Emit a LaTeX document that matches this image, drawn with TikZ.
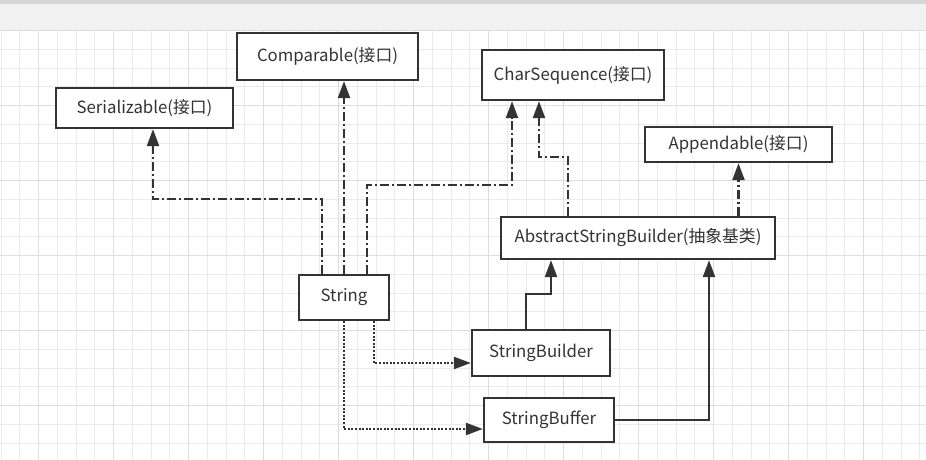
\documentclass[tikz,border=0pt]{standalone}
\usepackage{fontspec}
\setmainfont{Noto Sans CJK SC}
\usetikzlibrary{arrows.meta}
\definecolor{linegray}{HTML}{333333}
\definecolor{gridminor}{HTML}{EAEAEA}
\definecolor{gridmajor}{HTML}{DDDDDD}
\definecolor{barlight}{HTML}{F1F1F1}
\definecolor{bardark}{HTML}{D6D6DA}
\tikzset{
  classbox/.style={draw=linegray, line width=2.3pt, fill=white, inner sep=0pt,
    font=\fontsize{16.8}{20}\selectfont, text=linegray},
  iface/.style={draw=linegray, line width=2.3pt, dash pattern=on 9pt off 3pt on 2pt off 3pt,
    -{Triangle[length=17pt,width=12pt]}},
  extend/.style={draw=linegray, line width=2.3pt, -{Triangle[length=17pt,width=12pt]}},
  depend/.style={draw=linegray, line width=2.3pt, dash pattern=on 2pt off 1.6pt,
    -{Triangle[length=17pt,width=12pt]}},
}
\begin{document}
\begin{tikzpicture}[x=1pt, y=-1pt]
        \useasboundingbox (0,0) rectangle (926,460);
        \fill[white] (0,0) rectangle (926,460);
        \fill[barlight] (0,0) rectangle (926,30);
        \fill[bardark] (0,0) rectangle (926,4.5);
        % grid
        \foreach \x in {1,19.75,...,926}
          \draw[gridminor, line width=1pt] (\x,30) -- (\x,460);
        \foreach \y in {30.7,49.45,...,460}
          \draw[gridminor, line width=1pt] (0,\y) -- (926,\y);
        \foreach \x in {38.5,113.5,...,926}
          \draw[gridmajor, line width=1pt] (\x,30) -- (\x,460);
        \foreach \y in {30.7,105.7,...,460}
          \draw[gridmajor, line width=1pt] (0,\y) -- (926,\y);
        % classes
        \node[classbox, minimum width=181pt, minimum height=47pt] (cmp) at (327.5,56.5) {Comparable(接口)};
        \node[classbox, minimum width=177pt, minimum height=40pt] (ser) at (144.5,108) {Serializable(接口)};
        \node[classbox, minimum width=182pt, minimum height=50pt] (chs) at (573,75) {CharSequence(接口)};
        \node[classbox, minimum width=187pt, minimum height=35pt] (apd) at (738.5,144.5) {Appendable(接口)};
        \node[classbox, minimum width=274pt, minimum height=42pt] (asb) at (638,238) {AbstractStringBuilder(抽象基类)};
        \node[classbox, minimum width=90pt, minimum height=45pt] (str) at (344,297.5) {String};
        \node[classbox, minimum width=138pt, minimum height=46pt] (sbd) at (541,353) {StringBuilder};
        \node[classbox, minimum width=130pt, minimum height=44pt] (sbf) at (549,420) {StringBuffer};
        % interfaces
        \draw[iface] ([xshift=-22pt]str.north) -- ++(0,-75) -| ([xshift=8.5pt]ser.south);
        \draw[iface] (str.north) -- (str.north |- cmp.south);
        \draw[iface] ([xshift=23pt]str.north) -- ++(0,-89) -| ([xshift=-61pt]chs.south);
        \draw[iface] ([xshift=-70pt]asb.north) -- ++(0,-59) -| ([xshift=-34pt]chs.south);
        \draw[iface] (asb.north -| apd.south) -- (apd.south);
        % inheritance
        \draw[extend] ([xshift=-15pt]sbd.north) -- ++(0,-35) -| ([xshift=-87pt]asb.south);
        \draw[extend] (sbf.east) -| ([xshift=71pt]asb.south);
        % uses
        \draw[depend] ([xshift=30pt]str.south) |- ([yshift=-10pt]sbd.west);
        \draw[depend] (str.south) |- ([yshift=-9pt]sbf.west);
      \end{tikzpicture}
\end{document}
